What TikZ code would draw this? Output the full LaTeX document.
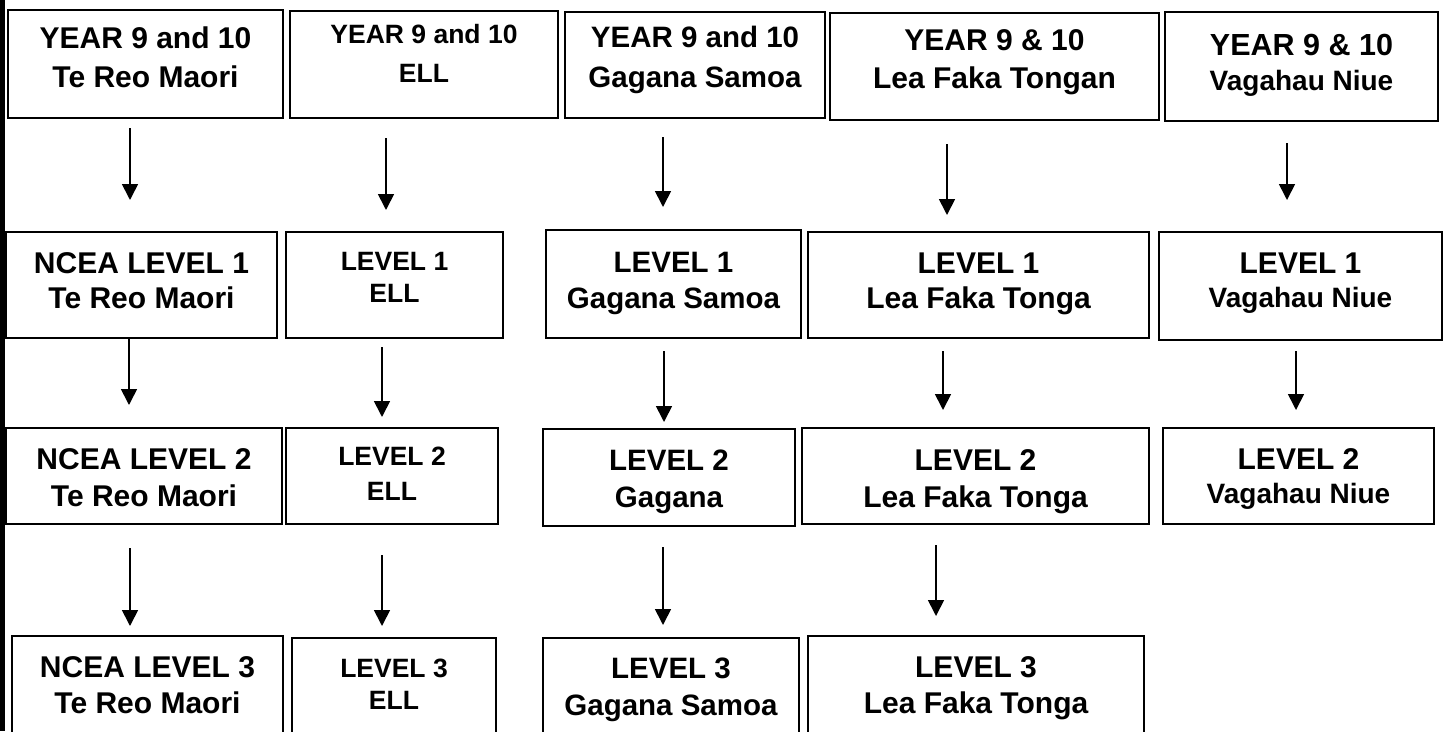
\documentclass[tikz,border=0pt]{standalone}
\usepackage{fontspec}
\setmainfont{Liberation Sans}
\usetikzlibrary{arrows.meta,calc}
\tikzset{
  box/.style={draw, line width=1.7pt, rectangle, anchor=north west, inner sep=0pt, outer sep=0pt},
  lbl/.style={anchor=base, inner sep=0pt, font=\bfseries\fontsize{#1}{#1}\selectfont},
  arr/.style={line width=1.7pt, -{Triangle[length=16pt,width=16pt]}},
}
\newcommand\bx[5]{\node[box, minimum width={#4-#2}, minimum height={#5-#3}] (#1) at (#2,#3) {};}
\newcommand\lb[5]{\node[lbl=#1] (#2) at (#3.center |- 0,#4) {#5};}
\newcommand\ar[5]{\draw[arr] ($(#1.south -| #3,0)+(0,#4)$) -- ($(#2.north -| #3,0)+(0,#5)$);}
\begin{document}
\begin{tikzpicture}[x=1pt,y=-1pt]
\useasboundingbox (0,0) rectangle (1443,731);
\clip (0,0) rectangle (1443,731);
\fill[black] (0,0) rectangle (4.5,731);
% row 1
\bx{b11}{8}{10}{283}{118}
\bx{b12}{290}{11}{558}{118}
\bx{b13}{565}{12}{825}{118}
\bx{b14}{830}{13}{1159}{120}
\bx{b15}{1165}{12}{1438}{121}
% row 2
\bx{b21}{6}{232}{277}{338}
\bx{b22}{286}{232}{503}{338}
\bx{b23}{546}{230}{801}{338}
\bx{b24}{808}{232}{1149}{338}
\bx{b25}{1159}{232}{1442}{340}
% row 3
\bx{b31}{6}{428}{282}{524}
\bx{b32}{286}{428}{498}{524}
\bx{b33}{543}{429}{795}{526}
\bx{b34}{802}{428}{1149}{524}
\bx{b35}{1163}{428}{1434}{524}
% row 4
\bx{b41}{12}{636}{283}{760}
\bx{b42}{292}{638}{496}{760}
\bx{b43}{543}{638}{799}{760}
\bx{b44}{808}{636}{1144}{760}
% labels row 1
\lb{30}{t11a}{b11}{48}{YEAR 9 and 10}
\lb{30}{t11b}{b11}{87}{Te Reo Maori}
\lb{26.5}{t12a}{b12}{43}{YEAR 9 and 10}
\lb{26.5}{t12b}{b12}{82}{ELL}
\lb{29.5}{t13a}{b13}{47}{YEAR 9 and 10}
\lb{29.5}{t13b}{b13}{87}{Gagana Samoa}
\lb{30}{t14a}{b14}{50}{YEAR 9 \& 10}
\lb{30}{t14b}{b14}{88}{Lea Faka Tongan}
\lb{30.5}{t15a}{b15}{55}{YEAR 9 \& 10}
\lb{28}{t15b}{b15}{90}{Vagahau Niue}
% labels row 2
\lb{30}{t21a}{b21}{273}{NCEA LEVEL 1}
\lb{30}{t21b}{b21}{308}{Te Reo Maori}
\lb{26.5}{t22a}{b22}{270}{LEVEL 1}
\lb{26.5}{t22b}{b22}{302}{ELL}
\lb{29.5}{t23a}{b23}{272}{LEVEL 1}
\lb{29.5}{t23b}{b23}{308}{Gagana Samoa}
\lb{30}{t24a}{b24}{273}{LEVEL 1}
\lb{30}{t24b}{b24}{308}{Lea Faka Tonga}
\lb{30}{t25a}{b25}{273}{LEVEL 1}
\lb{28}{t25b}{b25}{307}{Vagahau Niue}
% labels row 3
\lb{30}{t31a}{b31}{469}{NCEA LEVEL 2}
\lb{30}{t31b}{b31}{506}{Te Reo Maori}
\lb{26.5}{t32a}{b32}{465}{LEVEL 2}
\lb{26.5}{t32b}{b32}{500}{ELL}
\lb{29.5}{t33a}{b33}{470}{LEVEL 2}
\lb{29.5}{t33b}{b33}{507}{Gagana}
\lb{30}{t34a}{b34}{470}{LEVEL 2}
\lb{30}{t34b}{b34}{507}{Lea Faka Tonga}
\lb{30}{t35a}{b35}{469}{LEVEL 2}
\lb{28}{t35b}{b35}{503}{Vagahau Niue}
% labels row 4
\lb{30}{t41a}{b41}{677}{NCEA LEVEL 3}
\lb{30}{t41b}{b41}{713}{Te Reo Maori}
\lb{26.5}{t42a}{b42}{677}{LEVEL 3}
\lb{26.5}{t42b}{b42}{709}{ELL}
\lb{29.5}{t43a}{b43}{678}{LEVEL 3}
\lb{29.5}{t43b}{b43}{715}{Gagana Samoa}
\lb{30}{t44a}{b44}{677}{LEVEL 3}
\lb{30}{t44b}{b44}{713}{Lea Faka Tonga}
% arrows
\ar{b11}{b21}{130}{10}{-32}
\ar{b12}{b22}{386}{20}{-22}
\ar{b13}{b23}{663}{19}{-23}
\ar{b14}{b24}{947}{24}{-17}
\ar{b15}{b25}{1287}{22}{-32}
\ar{b21}{b31}{129}{0}{-23}
\ar{b22}{b32}{382}{9}{-11}
\ar{b23}{b33}{664}{13}{-7}
\ar{b24}{b34}{943}{13}{-18}
\ar{b25}{b35}{1296}{11}{-18}
\ar{b31}{b41}{130}{24}{-10}
\ar{b32}{b42}{382}{31}{-12}
\ar{b33}{b43}{663}{21}{-13}
\ar{b34}{b44}{936}{21}{-20}
\end{tikzpicture}
\end{document}
